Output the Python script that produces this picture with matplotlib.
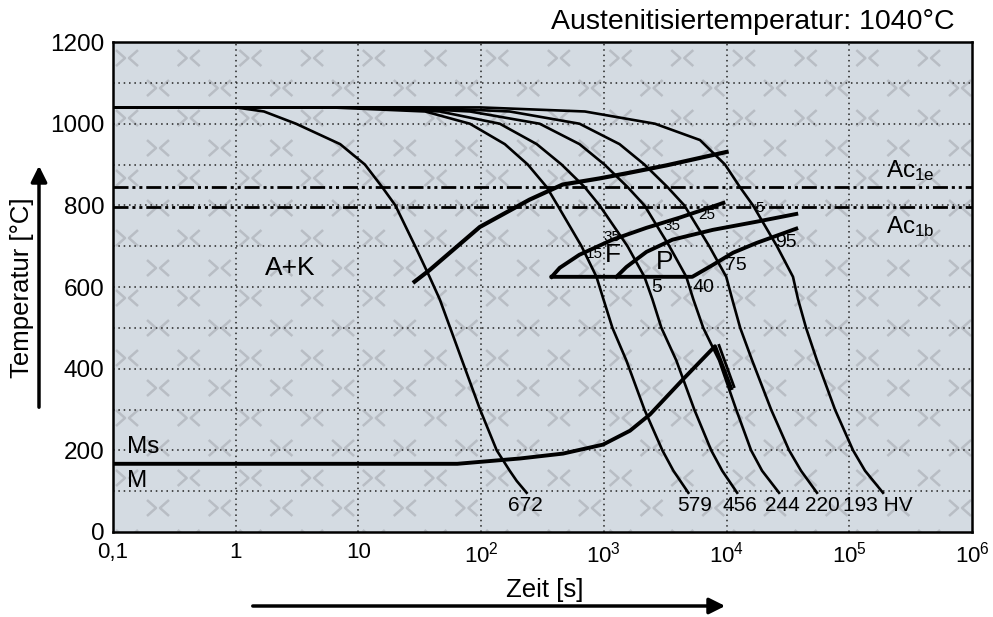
import numpy as np
import matplotlib.pyplot as plt
from matplotlib.collections import LineCollection

plt.rcParams['font.family'] = ['Liberation Sans', 'DejaVu Sans']
plt.rcParams['mathtext.fontset'] = 'custom'
plt.rcParams['mathtext.rm'] = 'Liberation Sans'
plt.rcParams['mathtext.it'] = 'Liberation Sans:italic'

# Abkuehlkurven (Zeit in s, Temperatur in °C), Haerte in HV am Ende
T_cool = [1040, 1040, 1030, 1000, 950, 900, 845, 800, 700, 625, 570, 500, 420, 300, 200, 150, 96]
t_672 = [0.1, 1.0, 1.7, 3.1, 7.1, 11.3, 15.6, 20, 29, 38, 46, 70, 98, 134, 171, 195, 235]
T_672 = [1040, 1040, 1030, 1000, 950, 900, 845, 800, 700, 625, 570, 420, 300, 200, 150, 125, 96]
t_579 = [0.1, 5.9, 35, 81, 156, 240, 342, 420, 658, 871, 993, 1175, 1527, 2141, 3000, 3690, 4886]
t_456 = [0.1, 10.3, 46, 142, 284, 453, 697, 923, 1560, 2143, 2488, 2946, 3899, 5460, 7500, 9220, 12200]
t_244 = [0.1, 18.1, 81, 300, 634, 1012, 1560, 2143, 3420, 4700, 5360, 6460, 8710, 11980, 15850, 19480, 26800]
t_220 = [0.1, 31.8, 171, 634, 1343, 2143, 3297, 4530, 7230, 9950, 11130, 12920, 16180, 23070, 32350, 40460, 54600]
t_193 = [0.1, 98, 700, 2612, 6080, 9720, 12840, 16430, 25760, 34800, 38250, 44460, 54600, 76500, 107400, 134500, 188400]
T_193 = [1040, 1040, 1030, 1000, 960, 900, 845, 800, 700, 625, 570, 500, 420, 300, 200, 150, 96]

hv_labels = ['672', '579', '456', '244', '220', '193 HV']
hv_t = [228, 5530, 12880, 28330, 59980, 171800]

# Umwandlungslinien
t_ak = [27.8, 38.2, 97.5, 248, 461, 922, 1620, 3240, 10400]
T_ak = [610, 642, 747, 814, 851, 866, 880, 898, 932]
t_fs = [376, 437, 632, 1178, 2223, 4150, 9430]
T_fs = [625, 647, 679, 716, 745, 770, 806]
t_ps = [1267, 1527, 2223, 3627, 7720, 17570, 37000]
T_ps = [625, 649, 686, 716, 740, 760, 779]
t_pe = [376, 5258, 7720, 11300, 17570, 37000]
T_pe = [625, 625, 654, 684, 708, 743]
t_ms = [0.1, 64, 207, 465, 984, 1633, 2380, 4420, 8050, 10890]
T_ms = [167, 167, 180, 192, 214, 248, 288, 374, 455, 352]
t_ms2 = [8690, 11500]
T_ms2 = [457, 356]

Ac1e = 846
Ac1b = 795

fig = plt.figure(figsize=(9.93, 6.17), dpi=100)
ax = fig.add_axes([0.1138, 0.1378, 0.865, 0.794])
ax.set_facecolor('#d4dbe2')

# Hintergrundmuster
W, H = 859.0, 490.0
segs = []
for i in range(17):
    cy = 474 - 30 * i
    x0 = 14 + 31 * (i % 2)
    for k in range(15):
        cx = x0 + 61.7 * k
        segs.append([((cx - 11) / W, (cy + 8) / H), ((cx - 2) / W, cy / H), ((cx - 11) / W, (cy - 8) / H)])
        segs.append([((cx + 11) / W, (cy + 8) / H), ((cx + 2) / W, cy / H), ((cx + 11) / W, (cy - 8) / H)])
lc = LineCollection(segs, colors='#b8bdc4', linewidths=1.8, transform=ax.transAxes, zorder=0)
ax.add_collection(lc, autolim=False)

ax.set_xscale('log')
ax.set_xlim(0.1, 1e6)
ax.set_ylim(0, 1200)

for v in range(100, 1200, 100):
    ax.axhline(v, color='#222222', lw=1.1, ls=(0, (1, 2.5)), zorder=1)
for d in [1, 10, 100, 1e3, 1e4, 1e5]:
    ax.axvline(d, color='#222222', lw=1.1, ls=(0, (1, 2.5)), zorder=1)

ax.axhline(Ac1e, color='black', lw=2, ls=(0, (5.4, 1.4, 1.1, 1.4, 1.1, 1.4)), zorder=2)
ax.axhline(Ac1b, color='black', lw=2, ls=(0, (5.4, 1.4, 1.1, 1.4, 1.1, 1.4)), zorder=2)

ax.plot(t_672, T_672, color='black', lw=1.9, zorder=3)
for tc in [t_579, t_456, t_244, t_220]:
    ax.plot(tc, T_cool, color='black', lw=1.9, zorder=3)
ax.plot(t_193, T_193, color='black', lw=1.9, zorder=3)

ax.plot(t_ak, T_ak, color='black', lw=3, zorder=4, solid_capstyle='butt')
ax.plot(t_fs, T_fs, color='black', lw=2.8, zorder=4)
ax.plot(t_ps, T_ps, color='black', lw=2.8, zorder=4)
ax.plot(t_pe, T_pe, color='black', lw=2.8, zorder=4)
ax.plot(t_ms, T_ms, color='black', lw=2.8, zorder=4)
ax.plot(t_ms2, T_ms2, color='black', lw=2, zorder=4)

for s in ax.spines.values():
    s.set_linewidth(1.8)
    s.set_zorder(6)

ax.set_xticks([0.1, 1, 10, 100, 1e3, 1e4, 1e5, 1e6],
              ['0,1', '1', '10', r'$\mathregular{10^{2}}$', r'$\mathregular{10^{3}}$',
               r'$\mathregular{10^{4}}$', r'$\mathregular{10^{5}}$', r'$\mathregular{10^{6}}$'])
ax.minorticks_off()
ax.set_yticks(range(0, 1201, 200))
ax.tick_params(length=0)
ax.tick_params(axis='y', pad=6, labelsize=17.5)
ax.tick_params(axis='x', pad=7, labelsize=16)
for lab in ax.get_yticklabels():
    lab.set_verticalalignment('center_baseline')

# Beschriftungen
ax.text(2.8, 647, 'A+K', fontsize=19, ha='center', va='center', zorder=5)
ax.text(0.13, 208, 'Ms', fontsize=17.5, ha='left', va='center', zorder=5)
ax.text(0.13, 124, 'M', fontsize=17.5, ha='left', va='center', zorder=5)
ax.text(2.0e5, 885, r'Ac$_{\mathregular{1e}}$', fontsize=17.5, ha='left', va='center', zorder=5)
ax.text(2.0e5, 748, r'Ac$_{\mathregular{1b}}$', fontsize=17.5, ha='left', va='center', zorder=5)
ax.text(1189, 679, 'F', fontsize=19, ha='center', va='center', zorder=5)
ax.text(3155, 661, 'P', fontsize=19, ha='center', va='center', zorder=5)
for tx, ty, s in [(831, 681, '15'), (1167, 723, '35'), (3597, 750, '35'),
                  (6935, 777, '25'), (18750, 794, '5')]:
    ax.text(tx, ty, s, fontsize=11, ha='center', va='center', zorder=5)
for tx, ty, s in [(2716, 600, '5'), (6430, 598, '40'), (11940, 652, '75'), (30540, 708, '95')]:
    ax.text(tx, ty, s, fontsize=14, ha='center', va='center', zorder=5)
for tx, s in zip(hv_t, hv_labels):
    ax.text(tx, 64, s, fontsize=15, ha='center', va='center', zorder=5)

fig.text(955 / 993, 1 - 22 / 617, 'Austenitisiertemperatur: 1040°C', fontsize=20.5,
         ha='right', va='center')
fig.text(22 / 993, 1 - 288 / 617, 'Temperatur [°C]', fontsize=18.5, rotation=90,
         ha='center', va='center')
fig.text(545 / 993, 1 - 590 / 617, 'Zeit [s]', fontsize=18.5, ha='center', va='center')
ax.annotate('', xy=(39 / 993, 1 - 163 / 617), xytext=(39 / 993, 1 - 410 / 617),
            xycoords='figure fraction',
            arrowprops=dict(arrowstyle='-|>', color='black', lw=2.5, mutation_scale=24))
ax.annotate('', xy=(728 / 993, 1 - 606 / 617), xytext=(250 / 993, 1 - 606 / 617),
            xycoords='figure fraction',
            arrowprops=dict(arrowstyle='-|>', color='black', lw=2.5, mutation_scale=24))

fig.savefig('out.png', dpi=100)
